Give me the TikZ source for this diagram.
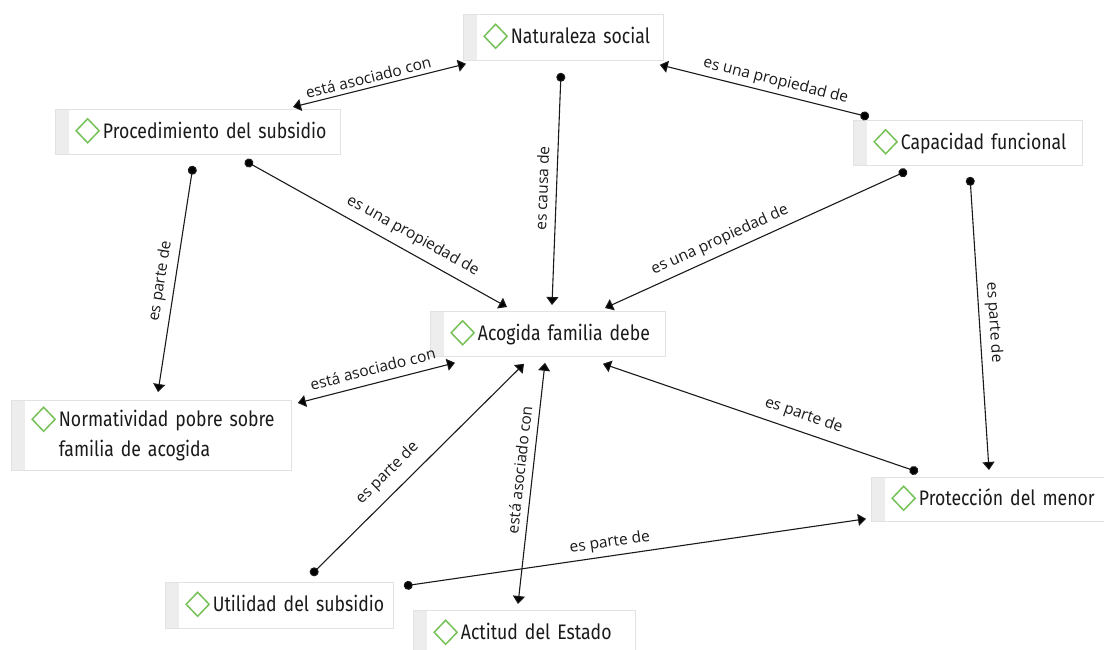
\documentclass[tikz,border=0pt]{standalone}
\usepackage{fontspec}
\setmainfont{Open Sans}
\newfontfamily\nodefont[FakeStretch=0.84]{Fira Sans}
\usetikzlibrary{arrows.meta,calc}
\definecolor{diamgreen}{HTML}{77C159}
\definecolor{stripgray}{HTML}{EDEDED}
\definecolor{boxborder}{HTML}{E2E2E2}
\definecolor{inkgray}{HTML}{1A1A1A}
\newcommand\dmd{\tikz[baseline=-7.5pt]\draw[diamgreen,line width=1.5pt,line join=miter] (-11.5pt,0pt)--(0pt,12pt)--(11.5pt,0pt)--(0pt,-12pt)--cycle;}
\newcommand\cpt[1]{\hspace*{20pt}\dmd\hspace{3pt}\begin{tabular}[t]{@{}l@{}}#1\end{tabular}}
\tikzset{
  concept/.style={rectangle, draw=boxborder, fill=white, line width=0.8pt,
    inner xsep=0pt, inner ysep=0pt, anchor=north west, align=left,
    text=inkgray, font=\nodefont\fontsize{21}{25}\selectfont,
    path picture={\fill[stripgray] (path picture bounding box.south west) rectangle ([xshift=14pt]path picture bounding box.north west);}},
  rel/.style={line width=1.1pt, draw=inkgray, -{Triangle[length=8pt,width=12pt]}},
  reltail/.style={rel, {Circle[length=9pt]}-{Triangle[length=8pt,width=12pt]}},
  relboth/.style={rel, {Triangle[length=8pt,width=12pt]}-{Triangle[length=8pt,width=12pt]}},
  lab/.style={font=\fontsize{15.5}{17}\selectfont, text=inkgray, sloped, inner sep=1pt},
}
\begin{document}
\begin{tikzpicture}[x=1pt,y=-1pt]
\useasboundingbox[fill=white] (0,0) rectangle (1104,650);
% concepts
\node[concept, text width=200, minimum height=46] (nat) at (463,14) {\cpt{Naturaleza social}};
\node[concept, text width=285, minimum height=45] (proc) at (55,109) {\cpt{Procedimiento del subsidio}};
\node[concept, text width=229, minimum height=45] (cap) at (853,120) {\cpt{Capacidad funcional}};
\node[concept, text width=235, minimum height=45] (acog) at (430,311) {\cpt{Acogida familia debe}};
\node[concept, text width=280, minimum height=70] (norm) at (11,400) {\cpt{Normatividad pobre sobre\\[5pt]familia de acogida}};
\node[concept, text width=236, minimum height=44] (prot) at (871,477) {\cpt{Protección del menor}};
\node[concept, text width=228, minimum height=46] (util) at (165,582) {\cpt{Utilidad del subsidio}};
\node[concept, text width=222, minimum height=46] (act) at (413,610) {\cpt{Actitud del Estado}};
% relations
\draw[relboth] ($(proc.north west)+(238,-2)$) -- node[lab, pos=0.45, above=3pt] {está asociado con} ($(nat.south west)+(3,3)$);
\draw[reltail] ($(cap.north west)+(16,-3)$) -- node[lab, pos=0.46, above=3pt] {es una propiedad de} ($(nat.south east)+(-4,4)$);
\draw[reltail] ($(nat.south west)+(98,12)$) -- node[lab, pos=0.5, above=7pt] {es causa de} ($(acog.north west)+(122,-6)$);
\draw[reltail] ($(proc.south west)+(190,6)$) -- node[lab, pos=0.61, above=7pt] {es una propiedad de} ($(acog.north west)+(77,-4)$);
\draw[reltail] ($(cap.south west)+(54,5)$) -- node[lab, pos=0.6, above=5pt] {es una propiedad de} ($(acog.north west)+(175,-3)$);
\draw[reltail] ($(proc.south west)+(138,11)$) -- node[lab, pos=0.52, above=5pt] {es parte de} ($(norm.north west)+(147,-8)$);
\draw[reltail] ($(cap.south west)+(117,11)$) -- node[lab, pos=0.5, above=5pt] {es parte de} ($(prot.north west)+(118,-7)$);
\draw[relboth] ($(norm.north east)+(6,3)$) -- node[lab, pos=0.5, above=7pt] {está asociado con} ($(acog.south west)+(25,6)$);
\draw[reltail] ($(prot.north west)+(47,-5)$) -- node[lab, pos=0.38, above=7pt] {es parte de} ($(acog.south west)+(173,7)$);
\draw[reltail] ($(util.north west)+(146,-7)$) -- node[lab, pos=0.42, above=9pt] {es parte de} ($(acog.south west)+(94,7)$);
\draw[relboth] ($(acog.south west)+(115,6)$) -- node[lab, pos=0.45, above=6pt] {está asociado con} ($(act.north west)+(105,-6)$);
\draw[reltail] ($(util.north east)+(10,4)$) -- node[lab, pos=0.45, above=4pt] {es parte de} ($(prot.south west)+(-5,-3)$);
\end{tikzpicture}
\end{document}
